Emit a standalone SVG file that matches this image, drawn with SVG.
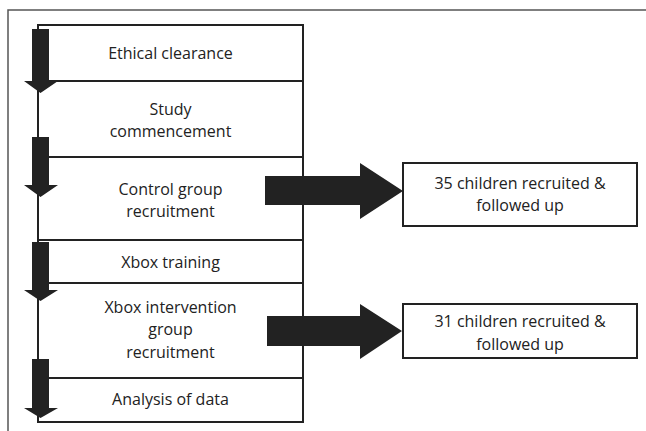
<svg xmlns="http://www.w3.org/2000/svg" width="646" height="431" viewBox="0 0 646 431">
  <style>
    .frame { fill: none; stroke: #555; stroke-width: 1.5; }
    .box { fill: #fff; stroke: #222; stroke-width: 2; }
    .rule { stroke: #222; stroke-width: 2; }
    .arrow { fill: #222; }
    text { font-family: "Open Sans", "Liberation Sans", Arial, sans-serif; font-size: 16px; fill: #222; text-anchor: middle; }
  </style>
  <rect width="646" height="431" fill="#fff"/>

  <!-- outer frame: top and left edges only -->
  <path class="frame" d="M8,431 V10 H646"/>

  <!-- stacked stage column -->
  <g id="stages">
    <rect class="box" x="38" y="25" width="265" height="397"/>
    <line class="rule" x1="38" y1="81" x2="303" y2="81"/>
    <line class="rule" x1="38" y1="157" x2="303" y2="157"/>
    <line class="rule" x1="38" y1="240" x2="303" y2="240"/>
    <line class="rule" x1="38" y1="283" x2="303" y2="283"/>
    <line class="rule" x1="38" y1="378" x2="303" y2="378"/>
  </g>
  <g id="ethical-clearance"><text x="170.5" y="59">Ethical clearance</text></g>
  <g id="study-commencement"><text x="170.5" y="115">Study</text><text x="170.5" y="137">commencement</text></g>
  <g id="control-recruitment"><text x="170.5" y="195">Control group</text><text x="170.5" y="217">recruitment</text></g>
  <g id="xbox-training"><text x="170.5" y="268">Xbox training</text></g>
  <g id="xbox-recruitment"><text x="170.5" y="313">Xbox intervention</text><text x="170.5" y="335">group</text><text x="170.5" y="358">recruitment</text></g>
  <g id="analysis"><text x="170.5" y="405">Analysis of data</text></g>

  <!-- outcome boxes -->
  <g id="control-outcome">
    <rect class="box" x="403" y="163" width="234" height="63"/>
    <text x="520" y="189">35 children recruited &amp;</text>
    <text x="520" y="211">followed up</text>
  </g>
  <g id="xbox-outcome">
    <rect class="box" x="403" y="304" width="234" height="54"/>
    <text x="520" y="327">31 children recruited &amp;</text>
    <text x="520" y="350">followed up</text>
  </g>

  <!-- block arrows -->
  <g id="connectors">
    <path class="arrow" d="M32,29 H49 V81 H58 L40.5,93 L24,81 H32 Z"/>
    <path class="arrow" d="M32,137 H49 V185 H58 L40.5,197 L24,185 H32 Z"/>
    <path class="arrow" d="M32,242 H49 V290 H58 L40.5,301 L24,290 H32 Z"/>
    <path class="arrow" d="M32,359 H49 V408 H58 L40.5,418 L24,408 H32 Z"/>
    <path class="arrow" d="M265,176 H360 V163 L403,191 L360,219 V205 H265 Z"/>
    <path class="arrow" d="M267,316 H360 V304 L402,331 L360,359 V346 H267 Z"/>
  </g>
</svg>
